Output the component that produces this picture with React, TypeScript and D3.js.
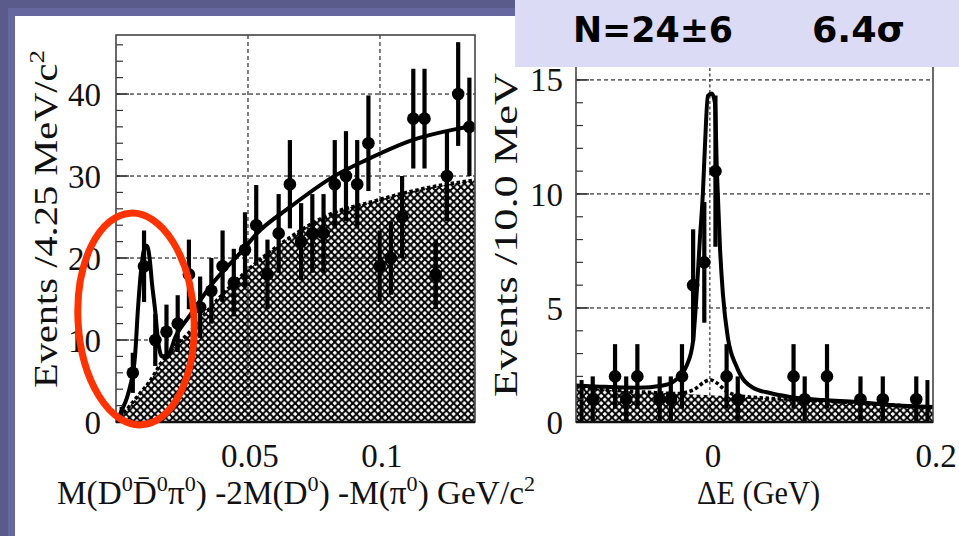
import React from "react";
import * as d3 from "d3";

const WIDTH = 959;
const HEIGHT = 536;

// ---------- Left panel: M(D0 D0bar pi0) - 2M(D0) - M(pi0) ----------
const leftLow = 0;
const leftBinWidth = 0.00425;
const leftCounts = [0, 6, 19, 10, 11, 12, 18, 14, 16, 19, 17, 21, 24, 18, 23, 29, 22, 23, 23, 29, 30, 29, 34, 19, 20, 25, 37, 37, 18, 30, 40, 36];
const leftTotalX = [0, 0.0023, 0.0042, 0.0053, 0.0072, 0.0083, 0.0095, 0.0106, 0.0117, 0.0129, 0.0136, 0.0148, 0.0159, 0.0174, 0.0197, 0.0227, 0.028, 0.0356, 0.0481, 0.0534, 0.0659, 0.0822, 0.0951, 0.1125, 0.133, 0.136];
const leftTotalY = [0, 1.5, 3, 4.3, 8, 13.7, 18.5, 21, 21.5, 19.5, 17, 13.7, 10, 8, 8.2, 10.5, 13, 16.5, 21, 23, 26.2, 29.9, 32, 34.4, 36, 36.2];
const leftBkgX = [0, 0.0053, 0.0091, 0.0129, 0.0167, 0.0223, 0.028, 0.0345, 0.0432, 0.0534, 0.0659, 0.0822, 0.0951, 0.1076, 0.1201, 0.136];
const leftBkgY = [0, 2, 3.5, 5, 7, 9.2, 11, 13.5, 16.5, 19.5, 22.5, 25.5, 26.7, 27.8, 28.7, 29.5];
const leftYTicks = [0, 10, 20, 30, 40];
const leftXTicks = [0.05, 0.1];
const leftXTickLabels = ["0.05", "0.1"];

// ---------- Right panel: Delta E ----------
const rightLow = -0.12;
const rightBinWidth = 0.01;
const rightCounts: (number | null)[] = [0, 1, null, 2, 1, 2, null, 1, 1, 2, 6, 7, 11, 2, 1, null, null, null, null, 2, 1, null, 2, null, null, 1, null, 1, null, null, 1, 0];
const rightTotalX = [-0.12, -0.0987, -0.0646, -0.0422, -0.0332, -0.0254, -0.0206, -0.0152, -0.0119, -0.009, -0.0063, -0.0045, -0.0018, 0.0018, 0.0045, 0.0063, 0.009, 0.0117, 0.0161, 0.0242, 0.0386, 0.0538, 0.0717, 0.1013, 0.1318, 0.1614, 0.2];
const rightTotalY = [1.6, 1.55, 1.5, 1.6, 1.75, 2.1, 2.5, 3.5, 5.6, 8, 10, 12, 14.3, 14.4, 14, 11, 7.7, 5.6, 3.7, 2.4, 1.5, 1.27, 1.1, 0.96, 0.88, 0.75, 0.66];
const rightHatchX = [-0.12, -0.1, -0.054, -0.009, 0.036, 0.081, 0.126, 0.171, 0.2];
const rightHatchY = [1.55, 1.45, 1.3, 1.2, 1.08, 0.98, 0.85, 0.72, 0.62];
const rightDashX = [-0.12, -0.1, -0.054, -0.03, -0.015, -0.005, 0, 0.005, 0.015, 0.03, 0.081, 0.126, 0.171, 0.2];
const rightDashY = [1.55, 1.45, 1.3, 1.25, 1.4, 1.75, 1.85, 1.75, 1.35, 1.12, 0.98, 0.85, 0.72, 0.62];
const rightYTicks = [0, 5, 10, 15];
const rightXTicks = [0, 0.2];
const rightXTickLabels = ["0", "0.2"];

const SERIF = "'Liberation Serif', 'DejaVu Serif', serif";

const L = { x0: 116, x1: 475, y0: 35, y1: 422 };
const R = { x0: 576, x1: 933, y0: 35, y1: 422 };

const lx = d3.scaleLinear().domain([0, 0.136]).range([L.x0, L.x1]);
const ly = d3.scaleLinear().domain([0, 47.2]).range([L.y1, L.y0]);
const rx = d3.scaleLinear().domain([-0.12, 0.2]).range([R.x0, R.x1]);
const ry = d3.scaleLinear().domain([0, 16.97]).range([R.y1, R.y0]);

type Sc = d3.ScaleLinear<number, number>;

function Panel(props: {
  id: string;
  xs: Sc;
  ys: Sc;
  box: { x0: number; x1: number; y0: number; y1: number };
  low: number;
  bw: number;
  counts: (number | null)[];
  totX: number[];
  totY: number[];
  hatchX: number[];
  hatchY: number[];
  dashX: number[];
  dashY: number[];
  yTicks: number[];
  yMinor: number[];
  xGrid: number[];
  xGridDash: string;
}) {
  const { xs, ys, box } = props;
  const curve = d3.curveMonotoneX;
  const line = d3.line<[number, number]>().x((d) => xs(d[0])).y((d) => ys(d[1])).curve(curve);
  const area = d3
    .area<[number, number]>()
    .x((d) => xs(d[0]))
    .y0(ys(0))
    .y1((d) => ys(d[1]))
    .curve(curve);
  const tot = props.totX.map((x, i) => [x, props.totY[i]] as [number, number]);
  const hat = props.hatchX.map((x, i) => [x, props.hatchY[i]] as [number, number]);
  const dsh = props.dashX.map((x, i) => [x, props.dashY[i]] as [number, number]);
  const clipId = props.id + "-clip";
  return (
    <g>
      <defs>
        <clipPath id={clipId}>
          <rect x={box.x0} y={box.y0} width={box.x1 - box.x0} height={box.y1 - box.y0} />
        </clipPath>
      </defs>
      {props.yTicks
        .filter((t) => t > 0)
        .map((t) => (
          <line key={"gy" + t} x1={box.x0} x2={box.x1} y1={ys(t)} y2={ys(t)} stroke="#000" strokeWidth={1} strokeDasharray="4 3" />
        ))}
      {props.xGrid.map((t) => (
        <line key={"gx" + t} x1={xs(t)} x2={xs(t)} y1={box.y0} y2={box.y1} stroke="#000" strokeWidth={1} strokeDasharray={props.xGridDash} />
      ))}
      <g clipPath={`url(#${clipId})`}>
        <path d={area(hat) || ""} fill="url(#hatch)" />
        <path d={line(dsh) || ""} fill="none" stroke="#000" strokeWidth={3.6} strokeDasharray="3.5 2.5" />
        <path d={line(tot) || ""} fill="none" stroke="#000" strokeWidth={4} />
        {props.counts.map((n, i) => {
          if (n === null) return null;
          const cx = xs(props.low + (i + 0.5) * props.bw);
          if (n === 0) {
            return <line key={"e" + i} x1={cx} x2={cx} y1={ys(0)} y2={ys(1.84)} stroke="#000" strokeWidth={4} />;
          }
          const e = Math.sqrt(n);
          return (
            <g key={"p" + i}>
              <line x1={cx} x2={cx} y1={ys(n - e)} y2={ys(n + e)} stroke="#000" strokeWidth={4.2} />
              <circle cx={cx} cy={ys(n)} r={6.3} fill="#000" />
            </g>
          );
        })}
      </g>
      {props.yMinor.map((t) => (
        <line key={"mt" + t} x1={box.x0} x2={box.x0 + 7} y1={ys(t)} y2={ys(t)} stroke="#333" strokeWidth={1.2} />
      ))}
      {props.yTicks.map((t) => (
        <line key={"Mt" + t} x1={box.x0} x2={box.x0 + 13} y1={ys(t)} y2={ys(t)} stroke="#333" strokeWidth={1.4} />
      ))}
      <rect x={box.x0} y={box.y0} width={box.x1 - box.x0} height={box.y1 - box.y0} fill="none" stroke="#444" strokeWidth={1.6} />
      <line x1={box.x0} x2={box.x1} y1={box.y1} y2={box.y1} stroke="#111" strokeWidth={2.4} />
    </g>
  );
}

export default function App() {
  const sup = (s: string) => (
    <tspan dy={-13} fontSize={22}>{s}</tspan>
  );
  return (
    <svg width={WIDTH} height={HEIGHT} style={{ position: "fixed", left: 0, top: 0 }} xmlns="http://www.w3.org/2000/svg">
      <defs>
        <pattern id="hatch" width={7.2} height={7.2} patternUnits="userSpaceOnUse">
          <path d="M-1,1 L1,-1 M0,7.2 L7.2,0 M6.2,8.2 L8.2,6.2" stroke="#000" strokeWidth={1.9} />
          <path d="M-1,6.2 L1,8.2 M0,0 L7.2,7.2 M6.2,-1 L8.2,1" stroke="#000" strokeWidth={1.9} />
        </pattern>
      </defs>
      <rect x={0} y={0} width={WIDTH} height={HEIGHT} fill="#5a5a8b" />
      <rect x={8} y={8} width={WIDTH - 8} height={HEIGHT - 8} fill="#6767a0" />
      <rect x={15} y={16} width={WIDTH - 15} height={HEIGHT - 16} fill="#ffffff" />

      <Panel
        id="left"
        xs={lx}
        ys={ly}
        box={L}
        low={leftLow}
        bw={leftBinWidth}
        counts={leftCounts}
        totX={leftTotalX}
        totY={leftTotalY}
        hatchX={leftBkgX}
        hatchY={leftBkgY}
        dashX={leftBkgX}
        dashY={leftBkgY}
        yTicks={leftYTicks}
        yMinor={d3.range(0, 47, 2)}
        xGrid={leftXTicks}
        xGridDash="4 3"
      />
      <Panel
        id="right"
        xs={rx}
        ys={ry}
        box={R}
        low={rightLow}
        bw={rightBinWidth}
        counts={rightCounts}
        totX={rightTotalX}
        totY={rightTotalY}
        hatchX={rightHatchX}
        hatchY={rightHatchY}
        dashX={rightDashX}
        dashY={rightDashY}
        yTicks={rightYTicks}
        yMinor={d3.range(0, 17, 1)}
        xGrid={[0]}
        xGridDash="3 2.5"
      />

      <g fontFamily={SERIF} fontSize={33} fill="#111">
        {leftYTicks.map((t) => (
          <text key={"ly" + t} x={L.x0 - 15} y={ly(t)} dy="0.35em" textAnchor="end">{t}</text>
        ))}
        {rightYTicks.map((t) => (
          <text key={"ry" + t} x={R.x0 - 13} y={ry(t)} dy="0.35em" textAnchor="end">{t}</text>
        ))}
        {leftXTicks.map((t, i) => (
          <text key={"lx" + t} x={lx(t) + 2} y={467} textAnchor="middle">{leftXTickLabels[i]}</text>
        ))}
        {rightXTicks.map((t, i) => (
          <text key={"rx" + t} x={rx(t) + 3} y={467} textAnchor="middle">{rightXTickLabels[i]}</text>
        ))}
      </g>

      <g fontFamily={SERIF} fontSize={33} fill="#111">
        <text transform="rotate(-90)" x={-388} y={57} textLength={338} lengthAdjust="spacingAndGlyphs">
          Events /4.25 MeV/c<tspan dy={-13} fontSize={22}>2</tspan>
        </text>
        <text transform="rotate(-90)" x={-397} y={517} textLength={324} lengthAdjust="spacingAndGlyphs">
          Events /10.0 MeV
        </text>
        <text x={57} y={504} textLength={478} lengthAdjust="spacingAndGlyphs">
          M(D{sup("0")}<tspan dy={13}>{"D\u0304"}</tspan>{sup("0")}<tspan dy={13}>π</tspan>{sup("0")}
          <tspan dy={13}>) -2M(D</tspan>{sup("0")}<tspan dy={13}>) -M(π</tspan>{sup("0")}
          <tspan dy={13}>) GeV/c</tspan>{sup("2")}
        </text>
        <text x={697} y={504} textLength={123} lengthAdjust="spacingAndGlyphs">ΔE (GeV)</text>
      </g>

      <ellipse cx={136} cy={319} rx={58} ry={106} fill="none" stroke="#ff3300" strokeWidth={7} transform="rotate(-3 136 319)" />

      <rect x={515} y={0} width={WIDTH - 515} height={67} fill="#dcdbf6" />
      <g fontFamily="'Comic Sans MS', 'DejaVu Sans', sans-serif" fontWeight="bold" fontSize={35} fill="#000">
        <text x={573} y={42} textLength={160} lengthAdjust="spacingAndGlyphs">N=24±6</text>
        <text x={812} y={42} textLength={93} lengthAdjust="spacingAndGlyphs">6.4σ</text>
      </g>
    </svg>
  );
}
